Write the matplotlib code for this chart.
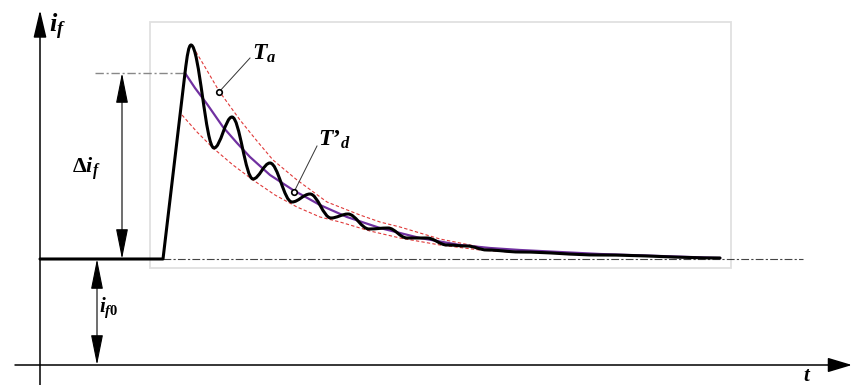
import matplotlib
matplotlib.use("Agg")
import matplotlib.pyplot as plt
from matplotlib.path import Path
from matplotlib.patches import PathPatch, FancyArrowPatch, Rectangle

plt.rcParams['mathtext.fontset'] = 'custom'
plt.rcParams['mathtext.it'] = 'Liberation Serif:italic:bold'
plt.rcParams['mathtext.rm'] = 'Liberation Serif:bold'
plt.rcParams['mathtext.bf'] = 'Liberation Serif:bold'

# field current (t and i in drawing units, origin = axes crossing)
i_f0 = 106
i_peak_mean = 292          # level of the dash-dot line (start of the mean curve)

# black curve: flat part, rise, then the extrema of the oscillation
black_t = [0, 123, 145, 151, 174, 192, 213, 230, 252, 270, 291, 308, 329, 348, 367, 387, 407, 427, 447, 480, 560, 680]
black_i = [106, 106, 292, 320, 217, 248, 186, 202, 163, 171, 147, 151, 136, 137, 127, 127, 120, 119, 115, 113, 110, 107]

# mean (aperiodic) component, purple
mean_t = [145, 155, 167, 183, 197, 210, 230, 253, 280, 307, 340, 380, 420, 450, 480, 560, 620, 680]
mean_i = [292, 277, 261, 238, 222, 208, 190, 175, 160, 148, 137, 127, 120, 117, 115, 111, 109, 107]

# envelopes, red dashed
upper_t = [153, 165, 179, 200, 217, 233, 257, 287, 320, 340, 360, 400, 440, 470]
upper_i = [318, 298, 274, 245, 224, 205, 185, 163, 150, 143, 138, 126, 118, 114]
lower_t = [142, 157, 173, 193, 213, 235, 257, 280, 300, 330, 360, 400, 440, 470]
lower_i = [250, 233, 217, 200, 185, 170, 158, 148, 143, 134, 127, 120, 115, 113]

baseline_end = 763
box = (110, 97, 581, 246)   # t0, i0, width, height of the light frame


def wave_path(ts, vs):
    verts = [(ts[0], vs[0]), (ts[1], vs[1]), (ts[2], vs[2])]
    codes = [Path.MOVETO, Path.LINETO, Path.LINETO]
    slope = (vs[2] - vs[1]) / (ts[2] - ts[1])
    for k in range(2, len(ts) - 1):
        x0, y0, x1, y1 = ts[k], vs[k], ts[k + 1], vs[k + 1]
        d = (x1 - x0) * 0.36
        if k == 2:
            c1 = (x0 + d, y0 + d * slope)
        else:
            c1 = (x0 + d, y0)
        c2 = (x1 - d, y1)
        verts += [c1, c2, (x1, y1)]
        codes += [Path.CURVE4] * 3
    return Path(verts, codes)


fig = plt.figure(figsize=(8.52, 3.85), dpi=100)
ax = fig.add_axes([0, 0, 1, 1])
ax.set_xlim(-40, 812)
ax.set_ylim(-20, 365)
ax.axis('off')

# light frame
ax.add_patch(Rectangle((box[0], box[1]), box[2], box[3], fill=False,
                       edgecolor='#e0e0e0', lw=1.3, zorder=1))

# axes with arrows
ax.add_patch(FancyArrowPatch((0, -20), (0, 355), arrowstyle='-|>,head_length=1.7,head_width=0.4',
                             mutation_scale=10, color='black', lw=1.1, shrinkA=0, shrinkB=0))
ax.add_patch(FancyArrowPatch((-25, 0), (812, 0), arrowstyle='-|>,head_length=1.5,head_width=0.45',
                             mutation_scale=10, color='black', lw=1.1, shrinkA=0, shrinkB=0))

# steady-state level lines
ax.plot([black_t[1], baseline_end], [i_f0, i_f0], color='#444444', lw=0.8, dashes=(7, 2, 2, 2), zorder=2)
ax.plot([55, 145], [i_peak_mean, i_peak_mean], color='#888888', lw=1.0, dashes=(6, 2, 1.5, 2), zorder=2)

# dimension arrows
ax.add_patch(FancyArrowPatch((82, i_peak_mean), (82, i_f0), arrowstyle='<|-|>,head_length=1.9,head_width=0.38',
                             mutation_scale=10, color='black', lw=0.8, shrinkA=0, shrinkB=0))
ax.add_patch(FancyArrowPatch((57, i_f0), (57, 0), arrowstyle='<|-|>,head_length=1.9,head_width=0.38',
                             mutation_scale=10, color='black', lw=0.8, shrinkA=0, shrinkB=0))

# curves
ax.plot(upper_t, upper_i, color='#e03a3a', lw=0.8, dashes=(3, 2), zorder=3)
ax.plot(lower_t, lower_i, color='#e03a3a', lw=0.8, dashes=(3, 2), zorder=3)
ax.plot(mean_t, mean_i, color='#7030a0', lw=1.6, zorder=4)
ax.add_patch(PathPatch(wave_path(black_t, black_i), fill=False, edgecolor='black', lw=2.2,
                       joinstyle='round', capstyle='round', zorder=5))

# leaders
ax.plot([210, 179], [307, 273], color='#333333', lw=0.7, zorder=6)
ax.plot([179], [273], 'o', ms=4, mfc='white', mec='black', mew=1.2, zorder=7)
ax.plot([277, 254], [219, 173], color='#333333', lw=0.7, zorder=6)
ax.plot([254], [173], 'o', ms=4, mfc='white', mec='black', mew=1.2, zorder=7)

# labels
ax.text(9, 338, '$i_f$', fontsize=19, ha='left', va='center')
ax.text(212, 312, '$T_a$', fontsize=17, ha='left', va='center')
ax.text(278, 226, '$T\u2019_d$', fontsize=17, ha='left', va='center')
ax.text(32, 196, r'$\Delta i_f$', fontsize=16, ha='left', va='center')
ax.text(59, 57, r'$i_{f\mathit{0}}$', fontsize=15, ha='left', va='center')
ax.text(767, -10, '$t$', fontsize=15, ha='center', va='center')

fig.savefig('out.png', dpi=100)
